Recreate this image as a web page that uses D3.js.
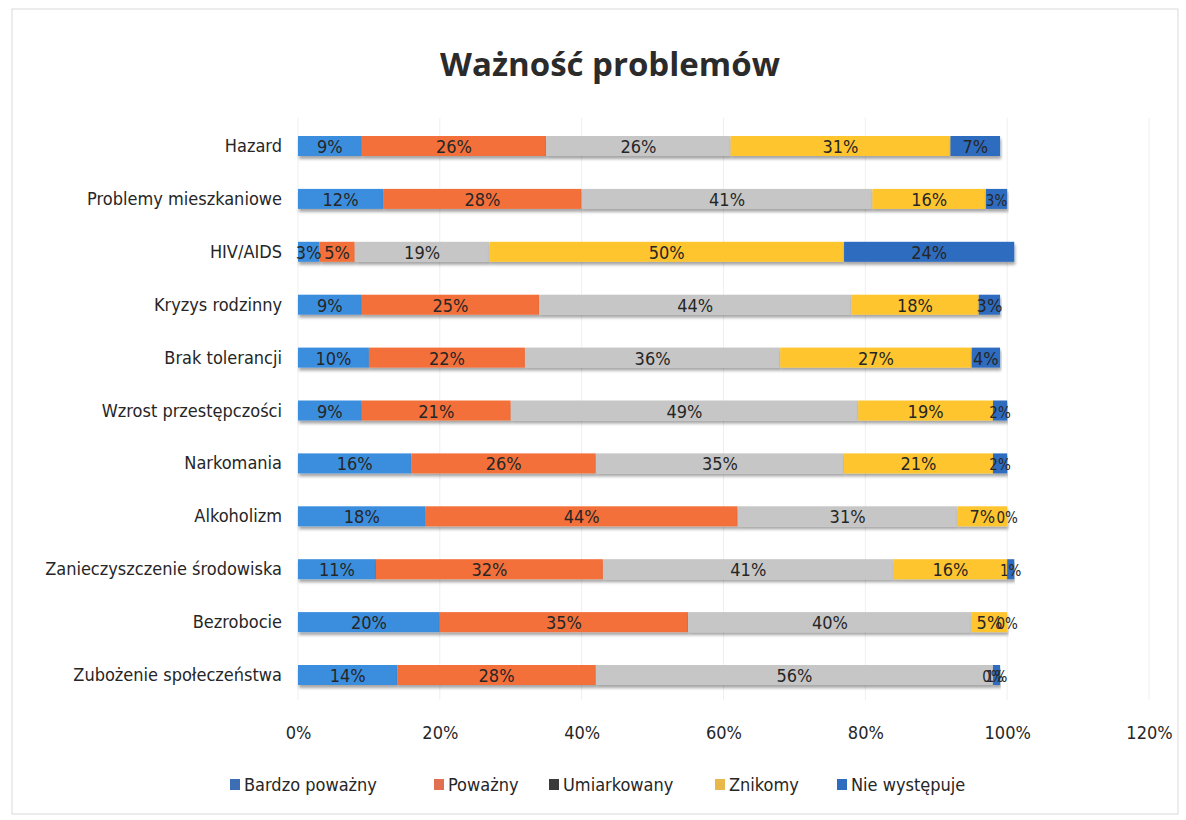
<!DOCTYPE html>
<html>
<head>
<meta charset="utf-8">
<script src="https://cdn.jsdelivr.net/npm/d3@7"></script>
<style>
  body { margin: 0; background: #fff; }
  text { font-family: "DejaVu Sans Condensed", "DejaVu Sans", sans-serif; fill: #262626; }
  .title { font-family: "Open Sans", sans-serif; font-weight: bold; font-size: 33px; fill: #2b2b2b; }
  .axis text { font-size: 18px; fill: #262626; }
</style>
</head>
<body>
<div id="chart"></div>
<script>
// chart data
var categories = ["Hazard", "Problemy mieszkaniowe", "HIV/AIDS", "Kryzys rodzinny", "Brak tolerancji",
  "Wzrost przestępczości", "Narkomania", "Alkoholizm", "Zanieczyszczenie środowiska", "Bezrobocie",
  "Zubożenie społeczeństwa"];
var seriesNames = ["Bardzo poważny", "Poważny", "Umiarkowany", "Znikomy", "Nie występuje"];
var bardzoPowazny = [9, 12, 3, 9, 10, 9, 16, 18, 11, 20, 14];
var powazny       = [26, 28, 5, 25, 22, 21, 26, 44, 32, 35, 28];
var umiarkowany   = [26, 41, 19, 44, 36, 49, 35, 31, 41, 40, 56];
var znikomy       = [31, 16, 50, 18, 27, 19, 21, 7, 16, 5, 0];
var nieWystepuje  = [7, 3, 24, 3, 4, 2, 2, 0, 1, 0, 1];
var tickValues = [0, 0.2, 0.4, 0.6, 0.8, 1.0, 1.2];

var seriesValues = [bardzoPowazny, powazny, umiarkowany, znikomy, nieWystepuje];
var colors = ["#3b8ede", "#f4703a", "#c6c6c6", "#ffc52e", "#2e6cc0"];
var legendColors = ["#3d6db5", "#e0704f", "#3a3a3a", "#e8b84a", "#2e6cc0"];

var svgWidth = 1186, svgHeight = 820;

var svg = d3.select("#chart").append("svg")
  .attr("width", svgWidth)
  .attr("height", svgHeight);

// drop shadow under the bars
var defs = svg.append("defs");
defs.append("filter").attr("id", "shadow")
  .attr("x", "-5%").attr("y", "-30%").attr("width", "110%").attr("height", "180%")
  .append("feDropShadow")
  .attr("dx", 1).attr("dy", 3).attr("stdDeviation", 1.5)
  .attr("flood-color", "#000").attr("flood-opacity", 0.35);

// chart frame
svg.append("rect")
  .attr("x", 12).attr("y", 9)
  .attr("width", 1166).attr("height", 805)
  .attr("fill", "none").attr("stroke", "#d9d9d9");

svg.append("text")
  .attr("class", "title")
  .attr("x", 610).attr("y", 76)
  .attr("text-anchor", "middle")
  .text("Ważność problemów");

// scales
var x = d3.scaleLinear().domain([0, 1.2]).range([298, 1149]);
var y = d3.scalePoint().domain(categories).range([146, 675]);
var barH = 20;

// faint vertical gridlines
svg.append("g").selectAll("line")
  .data(tickValues).enter()
  .append("line")
  .attr("x1", d => x(d)).attr("x2", d => x(d))
  .attr("y1", 118).attr("y2", 700)
  .attr("stroke", "#efefef");

// stack the series
var rows = categories.map(function(c, i) {
  var row = { cat: c };
  seriesNames.forEach(function(s, k) { row[s] = seriesValues[k][i] / 100; });
  return row;
});
var stacked = d3.stack().keys(seriesNames)(rows);

var layers = svg.append("g").selectAll("g")
  .data(stacked).enter()
  .append("g")
  .attr("fill", (d, k) => colors[k]);

layers.selectAll("rect")
  .data(d => d).enter()
  .append("rect")
  .attr("x", d => x(d[0]))
  .attr("y", d => y(d.data.cat) - barH / 2)
  .attr("width", d => x(d[1]) - x(d[0]))
  .attr("height", barH)
  .attr("filter", "url(#shadow)");

// value labels (small segments overlap, as in the original)
var labels = svg.append("g");
stacked.forEach(function(layer) {
  labels.selectAll(null)
    .data(layer).enter()
    .append("text")
    .attr("x", d => x((d[0] + d[1]) / 2))
    .attr("y", d => y(d.data.cat) + 7)
    .attr("text-anchor", "middle")
    .attr("font-size", d => (d[1] - d[0]) < 0.03 ? "15px" : "18px")
    .attr("fill", "#333")
    .text(d => Math.round((d[1] - d[0]) * 100) + "%");
});

// category labels
svg.append("g").selectAll("text")
  .data(categories).enter()
  .append("text")
  .attr("x", 282)
  .attr("y", d => y(d) + 6)
  .attr("text-anchor", "end")
  .attr("font-size", "18px")
  .text(d => d);

// bottom axis, labels only
var xAxis = d3.axisBottom(x)
  .tickValues(tickValues)
  .tickFormat(d3.format(".0%"))
  .tickSize(0);

svg.append("g")
  .attr("class", "axis")
  .attr("transform", "translate(0, 723)")
  .call(xAxis)
  .call(g => g.select(".domain").remove());

// legend
var legendX = [230, 434, 549, 715, 837];
var legend = svg.append("g").selectAll("g")
  .data(seriesNames).enter()
  .append("g")
  .attr("transform", (d, i) => `translate(${legendX[i]}, 785)`);

legend.append("rect")
  .attr("x", 0).attr("y", -6)
  .attr("width", 10).attr("height", 11)
  .attr("fill", (d, i) => legendColors[i]);

legend.append("text")
  .attr("x", 14).attr("y", 6)
  .attr("font-size", "18px")
  .text(d => d);
</script>
</body>
</html>
